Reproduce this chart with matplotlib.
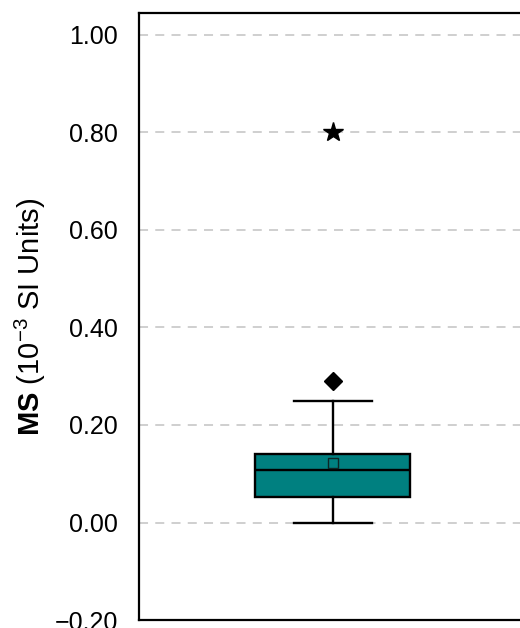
import matplotlib
matplotlib.use('Agg')
import matplotlib.pyplot as plt

plt.rcParams['font.family'] = ['Liberation Sans', 'DejaVu Sans']
plt.rcParams['mathtext.fontset'] = 'custom'
plt.rcParams['mathtext.rm'] = 'Liberation Sans'
plt.rcParams['mathtext.bf'] = 'Liberation Sans:bold'

# box statistics (10^-3 SI units)
q1 = [0.052]
med = [0.107]
q3 = [0.140]
whislo = [0.0]
whishi = [0.250]
means = [0.123]
outliers = [0.290]
extremes = [0.80]
yticks = [-0.20, 0.00, 0.20, 0.40, 0.60, 0.80, 1.00]

teal = '#008080'

fig = plt.figure(figsize=(5.20, 6.28), dpi=100)
ax = fig.add_axes([0.267, 0.0127, 0.746, 0.9666])

stats = [{'q1': q1[0], 'med': med[0], 'q3': q3[0], 'whislo': whislo[0],
          'whishi': whishi[0], 'mean': means[0], 'fliers': outliers}]
ax.bxp(stats, positions=[1], widths=0.4, capwidths=0.2, showmeans=True,
       patch_artist=True, zorder=3,
       boxprops=dict(facecolor=teal, edgecolor='black', linewidth=1.7),
       medianprops=dict(color='black', linewidth=1.7),
       whiskerprops=dict(color='black', linewidth=1.7),
       capprops=dict(color='black', linewidth=1.7),
       flierprops=dict(marker='D', markerfacecolor='black', markeredgecolor='black', markersize=9),
       meanprops=dict(marker='s', markerfacecolor=teal, markeredgecolor='#0d2626',
                      markersize=7, markeredgewidth=1.0))
ax.plot([1] * len(extremes), extremes, marker='*', color='black', markersize=15,
        linestyle='', zorder=4)

ax.set_xlim(0.5, 1.5)
ax.set_ylim(-0.20, 1.045)
ax.set_yticks(yticks)
ax.set_yticklabels([f'{v:.2f}'.replace('-', '\u2212') for v in yticks])
ax.set_xticks([])
ax.tick_params(axis='y', length=0, pad=15, labelsize=18)
ax.yaxis.grid(True, linestyle=(0, (5, 4)), color='#cccccc', linewidth=1.3, zorder=0)
ax.set_axisbelow(True)
for sp in ax.spines.values():
    sp.set_linewidth(1.6)

ax.set_ylabel(r'$\bf{MS}$ (10$^{\mathrm{-3}}$ SI Units)', fontsize=21, labelpad=5)

fig.savefig('out.png', dpi=100)
